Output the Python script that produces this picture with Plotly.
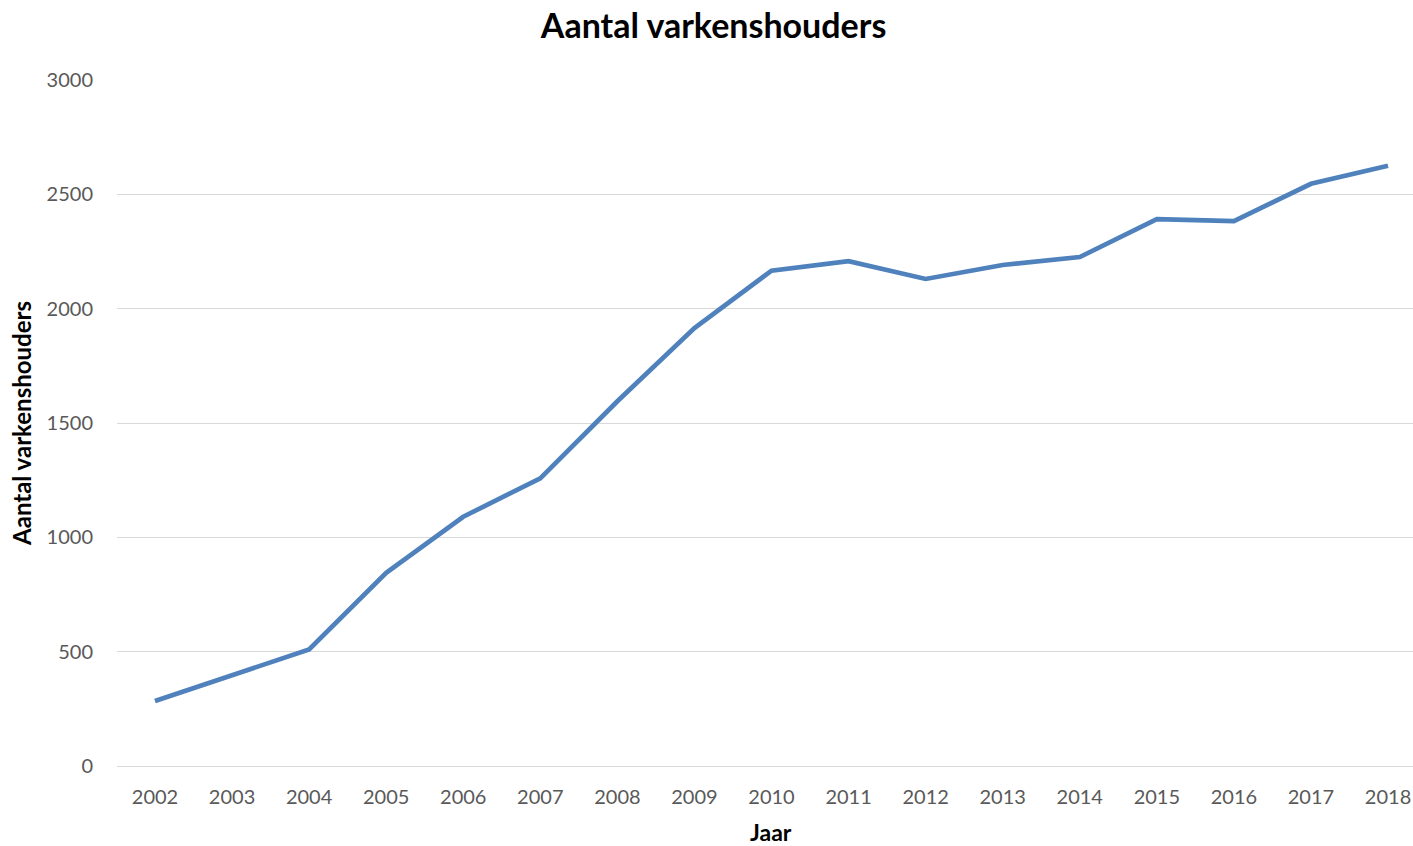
import plotly.graph_objects as go

years = ["2002", "2003", "2004", "2005", "2006", "2007", "2008", "2009", "2010",
         "2011", "2012", "2013", "2014", "2015", "2016", "2017", "2018"]
holders = [284, 398, 510, 845, 1090, 1258, 1595, 1915, 2166,
           2208, 2130, 2191, 2226, 2392, 2383, 2546, 2625]
y_ticks = [0, 500, 1000, 1500, 2000, 2500, 3000]

FONT = "Lato, 'Open Sans', sans-serif"

fig = go.Figure()
fig.add_trace(go.Scatter(
    x=years, y=holders, mode="lines",
    line=dict(color="#4f81bd", width=4.7),
    hoverinfo="x+y",
))

fig.update_layout(
    width=1413, height=846,
    paper_bgcolor="white", plot_bgcolor="white",
    margin=dict(l=117, r=0, t=80, b=80),
    showlegend=False,
    title=dict(text="<b>Aantal varkenshouders</b>", x=0.505, xanchor="center",
               y=1 - 26 / 846, yanchor="middle",
               font=dict(family=FONT, size=34, color="#000000")),
    font=dict(family=FONT),
)
fig.add_annotation(
    text="<b>Jaar</b>", xref="paper", yref="paper",
    x=(771 - 117) / 1296, y=-(832 - 766) / 686,
    xanchor="center", yanchor="middle", showarrow=False,
    font=dict(family=FONT, size=23, color="#000000"),
)
fig.update_xaxes(
    type="category", range=[-0.493, 16.324],
    showgrid=False, showline=True, linecolor="#d9d9d9", linewidth=1.3,
    ticks="", tickfont=dict(family=FONT, size=20, color="#595959"),
    ticklabelstandoff=13,
)
fig.update_yaxes(
    range=[0, 3000], tickvals=y_ticks,
    showgrid=True, gridcolor="#d9d9d9", gridwidth=1.3,
    zeroline=False, showline=False, ticks="",
    tickfont=dict(family=FONT, size=20, color="#595959"),
    ticklabelstandoff=23,
    title=dict(text="<b>Aantal varkenshouders</b>",
               font=dict(family=FONT, size=24, color="#000000"), standoff=8),
)

fig.write_html(
    "out.html",
    config={"displayModeBar": False},
    post_script="document.body.style.margin='0';document.body.style.overflow='hidden';",
)
